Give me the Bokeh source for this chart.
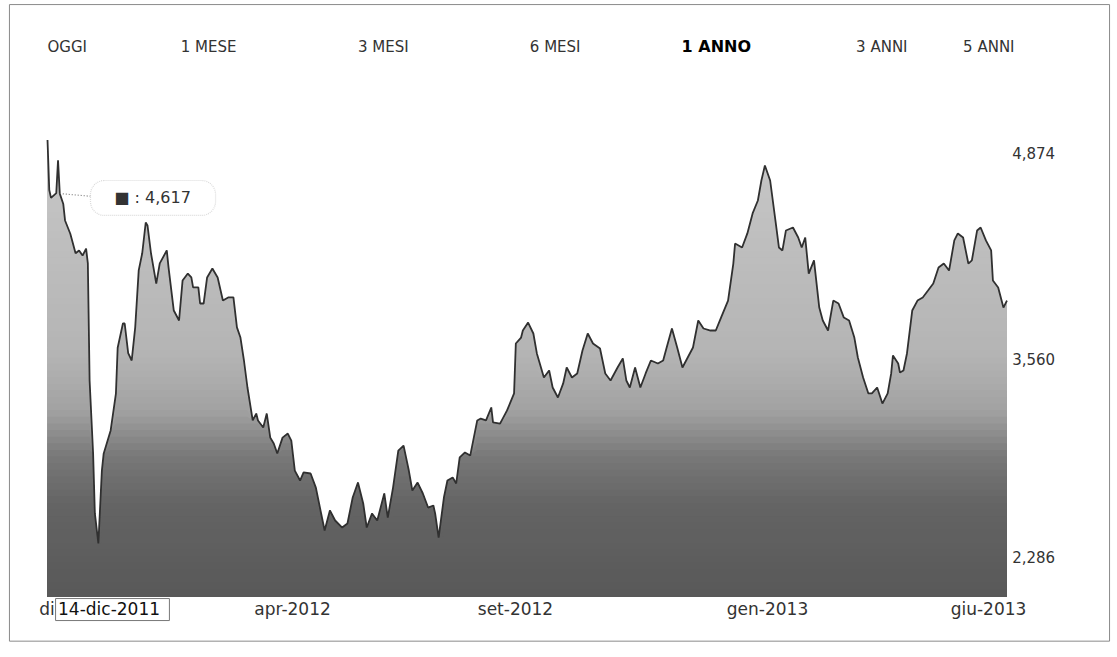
import numpy as np
from bokeh.plotting import figure
from bokeh.models import Range1d, BoxAnnotation
from bokeh.core.properties import value
from bokeh.embed import file_html
from bokeh.resources import INLINE

# ---- data ----
day = [0, 1, 2, 5, 6, 7, 9, 10, 13, 16, 18, 20, 22, 23, 24, 26, 27, 29, 31, 32,
       36, 39, 40, 43, 44, 46, 48, 50, 52, 54, 56, 57, 59, 62, 64, 68, 69, 72, 75, 77,
       80, 82, 83, 86, 87, 89, 91, 94, 97, 100, 103, 106, 108, 110, 112, 114, 117, 119, 120, 123,
       125, 127, 129, 131, 134, 137, 139, 141, 144, 146, 150, 153, 156, 158, 161, 164, 168, 171, 174, 177,
       180, 182, 185, 188, 192, 194, 197, 200, 203, 206, 208, 211, 214, 217, 220, 221, 223, 226, 228, 231,
       233, 235, 238, 241, 245, 247, 250, 253, 254, 258, 262, 266, 267, 270, 271, 274, 277, 279, 283, 286,
       288, 291, 294, 296, 299, 302, 305, 308, 311, 315, 318, 321, 325, 328, 330, 332, 335, 338, 341, 344,
       348, 351, 353, 356, 359, 362, 365, 368, 371, 374, 378, 381, 384, 388, 391, 392, 396, 399, 402, 405,
       407, 409, 412, 415, 417, 419, 421, 425, 428, 430, 432, 434, 437, 440, 442, 445, 448, 451, 454, 457,
       460, 462, 465, 468, 470, 473, 476, 479, 481, 482, 485, 486, 488, 490, 493, 496, 499, 502, 505, 508,
       511, 514, 517, 519, 522, 525, 527, 530, 532, 535, 538, 539, 542, 545, 547]
price = [4960, 4640, 4590, 4620, 4830, 4617, 4550, 4445, 4360, 4235, 4253, 4220, 4265, 4170, 3420, 2952, 2568, 2376, 2843, 2950,
         3100, 3335, 3630, 3785, 3785, 3595, 3548, 3760, 4125, 4235, 4432, 4413, 4235, 4040, 4170, 4253, 4144, 3868, 3804, 4060,
         4105, 4080, 4016, 4016, 3913, 3913, 4080, 4137, 4080, 3932, 3952, 3952, 3760, 3695, 3548, 3375, 3164, 3208, 3164, 3119,
         3208, 3054, 3016, 2952, 3054, 3080, 3035, 2843, 2779, 2831, 2824, 2734, 2568, 2459, 2587, 2523, 2478, 2504, 2670, 2766,
         2632, 2478, 2568, 2523, 2696, 2542, 2734, 2971, 3003, 2843, 2715, 2766, 2696, 2606, 2619, 2568, 2414, 2670, 2779, 2799,
         2760, 2927, 2959, 2939, 3164, 3176, 3164, 3247, 3151, 3144, 3228, 3337, 3657, 3695, 3740, 3791, 3721, 3593, 3439, 3484,
         3375, 3311, 3401, 3503, 3439, 3465, 3612, 3721, 3657, 3625, 3465, 3420, 3503, 3561, 3420, 3375, 3503, 3375, 3465, 3548,
         3529, 3548, 3631, 3753, 3631, 3503, 3567, 3631, 3804, 3753, 3740, 3740, 3823, 3932, 4169, 4297, 4272, 4362, 4490, 4573,
         4701, 4797, 4701, 4445, 4272, 4253, 4381, 4400, 4336, 4272, 4336, 4105, 4189, 3887, 3804, 3740, 3932, 3913, 3823, 3804,
         3695, 3567, 3439, 3337, 3337, 3375, 3272, 3337, 3465, 3580, 3529, 3471, 3484, 3593, 3868, 3932, 3952, 3996, 4041, 4144,
         4169, 4124, 4317, 4362, 4336, 4169, 4189, 4381, 4400, 4317, 4253, 4060, 4016, 3887, 3932]

y_ticks = [2286, 3560, 4874]
x_tick_days = [16.5, 139.7, 266.8, 410.5, 536.5]
x_tick_labels = ["dic-2011", "apr-2012", "set-2012", "gen-2013", "giu-2013"]
periods = ["OGGI", "1 MESE", "3 MESI", "6 MESI", "1 ANNO", "3 ANNI", "5 ANNI"]
period_day = [0, 76, 177, 275, 361.5, 461, 522]
selected_period = "1 ANNO"
hover_day, hover_value = 7, 4617
cursor_label = "14-dic-2011"

BASE = 2036          # bottom of the filled area
FONT = "DejaVu Sans"
W, H = 1113, 652

# whole canvas is the plotting frame; layout positions in data units
p = figure(width=W, height=H, output_backend="svg", toolbar_location=None,
           x_range=Range1d(-26.8, 607.75), y_range=Range1d(1677.4, 5854.1),
           x_axis_location=None, y_axis_location=None, min_border=0)
p.background_fill_color = "white"
p.border_fill_color = "white"
p.outline_line_color = None
p.grid.visible = False

# outer frame of the widget
p.quad(left=[-21.7], right=[605.5], bottom=[1750], top=[5828],
       fill_color=None, line_color="#8a8a8a", line_width=1)

# gradient-like fill: stacked bands, lighter at the top, darker at the bottom
x = np.array(day, dtype=float)
yv = np.array(price, dtype=float)
stop_v = [5000, 3600, 3250, 2950, 2650, BASE]
stop_g = [200, 180, 162, 120, 100, 88]
levels = np.linspace(max(price) + 10, BASE + 5, 70)
for L in levels:
    g = int(round(np.interp(L, stop_v[::-1], stop_g[::-1])))
    col = "#%02x%02x%02x" % (g, g, g)
    p.varea(x=x, y1=BASE, y2=np.minimum(yv, L), fill_color=col, fill_alpha=1.0)

p.line(x, yv, line_color="#303030", line_width=1.8)

# y tick labels (right)
p.text(x=[550.0] * len(y_ticks), y=y_ticks, text=[format(v, ",") for v in y_ticks],
       text_font=value(FONT), text_font_size="15px", text_color="#333333",
       text_align="left", text_baseline="middle")

# x tick labels (below)
p.text(x=x_tick_days, y=[1959] * len(x_tick_days), text=x_tick_labels,
       text_font=value(FONT), text_font_size="17px", text_color="#333333",
       text_align="center", text_baseline="middle")

# period selector
others = [t for t in periods if t != selected_period]
p.text(x=[d for d, t in zip(period_day, periods) if t != selected_period],
       y=[5559] * len(others), text=others,
       text_font=value(FONT), text_font_size="15px", text_color="#333333",
       text_align="left", text_baseline="middle")
sel = periods.index(selected_period)
p.text(x=[period_day[sel]], y=[5559], text=[selected_period],
       text_font=value(FONT), text_font_size="16px", text_font_style="bold",
       text_color="#000000", text_align="left", text_baseline="middle")

# tooltip
p.segment(x0=[hover_day], y0=[hover_value], x1=[24.5], y1=[4600],
          line_color="#777777", line_dash="1 2", line_width=1.2)
p.add_layout(BoxAnnotation(left=24.5, right=95.8, bottom=4477, top=4701,
                           fill_color="white", fill_alpha=1.0, line_color="#888888",
                           line_dash="1 1", line_width=1.2, border_radius=14))
p.text(x=[59.9], y=[4592], text=["\u25a0 : " + format(hover_value, ",")],
       text_font=value(FONT), text_font_size="16px", text_color="#333333",
       text_align="center", text_baseline="middle", level="overlay")

# cursor date box on the x axis (covers the first month label)
p.quad(left=[4.6], right=[69.5], bottom=[1882], top=[2023],
       fill_color="white", line_color="#777777", line_width=1)
p.text(x=[6.0], y=[1953], text=[cursor_label],
       text_font=value(FONT), text_font_size="17px", text_color="#111111",
       text_align="left", text_baseline="middle")

open("out.html", "w").write(file_html(p, INLINE))
